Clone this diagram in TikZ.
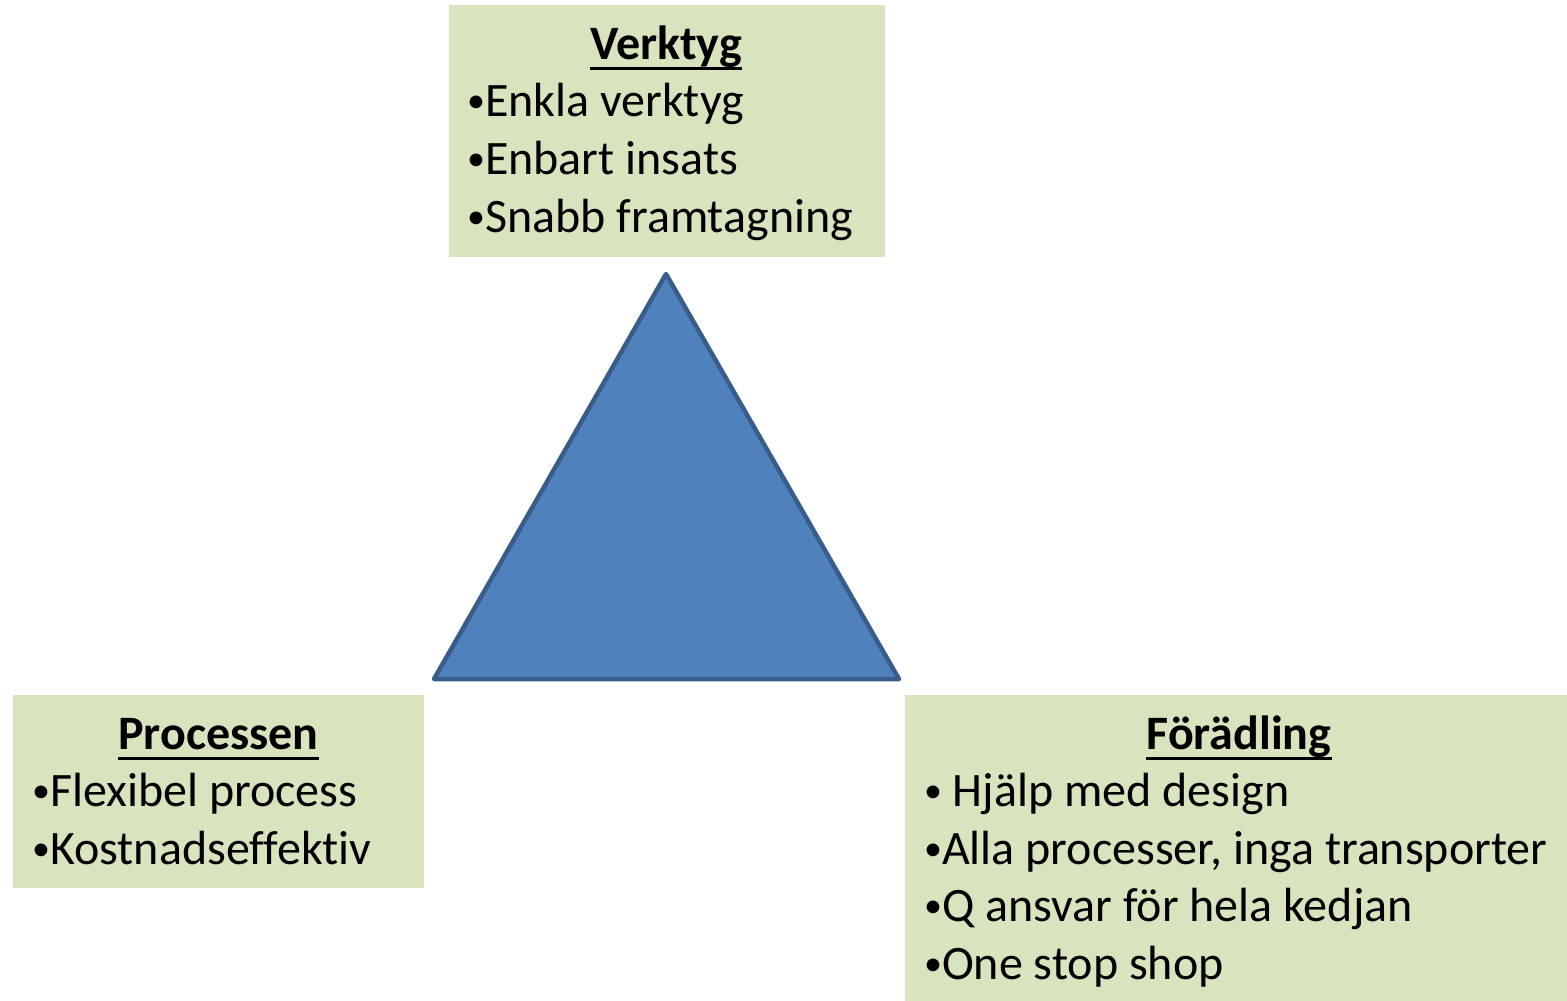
\documentclass[tikz,border=0pt]{standalone}
\usepackage{fontspec}
\setmainfont{Carlito}[Ligatures=CommonOff]
\definecolor{boxgreen}{HTML}{D7E4BD}
\definecolor{trifill}{HTML}{4F81BD}
\definecolor{tristroke}{HTML}{385D8A}
\newcommand{\mybul}{\raisebox{3.5pt}{\fontsize{36}{36}\selectfont •}}
\begin{document}
\begin{tikzpicture}[x=1pt,y=-1pt,
  greenbox/.style={fill=boxgreen,draw=none},
  ttl/.style={anchor=base,inner sep=0pt,font=\fontsize{48}{58}\selectfont\bfseries},
  itm/.style={anchor=base west,inner sep=0pt,font=\fontsize{48}{58}\selectfont},
  uline/.style={line width=3pt}]
\useasboundingbox (0,0) rectangle (1567,1001);
% boxes
\fill[greenbox] (449,5) rectangle (885,257);
\fill[greenbox] (13,695) rectangle (424,888);
\fill[greenbox] (905,695) rectangle (1567,1001);
% triangle
\coordinate (apex) at (666,274);
\coordinate (bl) at (434,679);
\coordinate (br) at (899,679);
\draw[fill=trifill,draw=tristroke,line width=4.5pt,line join=round] (apex) -- (br) -- (bl) -- cycle;
% top box text
\node[ttl] (t1) at (666,59) {Verktyg};
\draw[uline] ([yshift=-9pt]t1.base west) -- ([yshift=-9pt]t1.base east);
\node[itm] (t1a) at (467,116) {\mybul Enkla verktyg};
\node[itm] (t1b) at (467,174) {\mybul Enbart insats};
\node[itm] (t1c) at (467,232) {\mybul Snabb framtagning};
% left box text
\node[ttl] (t2) at (218.5,749) {Processen};
\draw[uline] ([yshift=-9pt]t2.base west) -- ([yshift=-9pt]t2.base east);
\node[itm] (t2a) at (32,806) {\mybul Flexibel process};
\node[itm] (t2b) at (32,864) {\mybul Kostnadseffektiv};
% right box text
\node[ttl] (t3) at (1239,749) {Förädling};
\draw[uline] ([yshift=-9pt]t3.base west) -- ([yshift=-9pt]t3.base east);
\node[itm] (t3a) at (924,806) {\mybul{} Hjälp med design};
\node[itm] (t3b) at (924,864) {\mybul Alla processer, inga transporter};
\node[itm] (t3c) at (924,921) {\mybul Q ansvar för hela kedjan};
\node[itm] (t3d) at (924,979) {\mybul One stop shop};
\end{tikzpicture}
\end{document}
